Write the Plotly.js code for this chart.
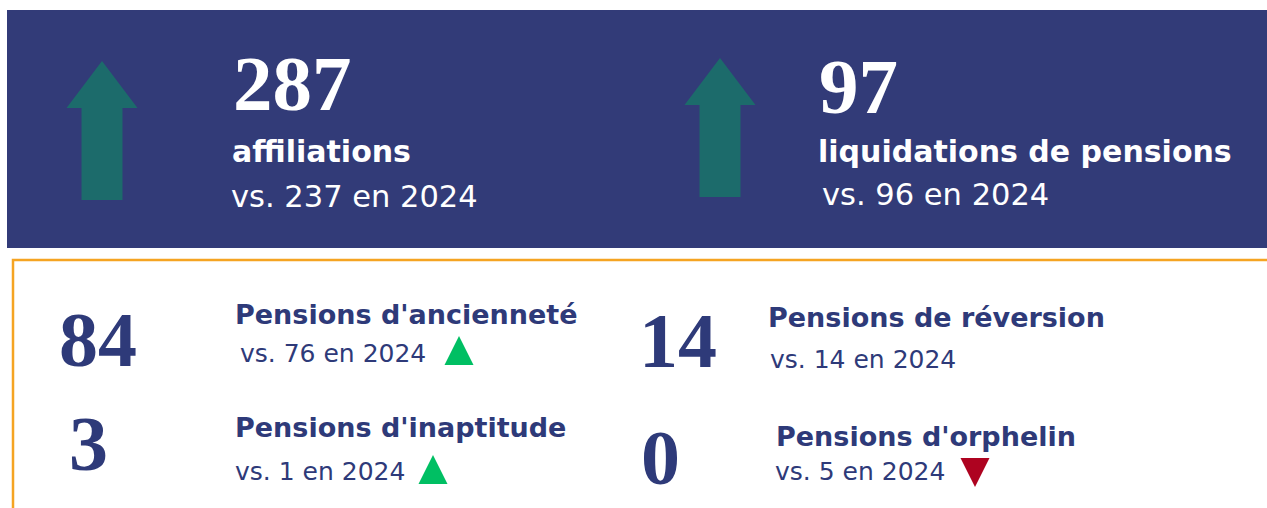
<!DOCTYPE html>
<html><head><meta charset="utf-8">
<script src="https://cdn.plot.ly/plotly-3.0.1.min.js"></script>
<style>html,body{margin:0;padding:0;background:#fff;overflow:hidden}</style>
</head><body><div id="chart" style="width:1267px;height:508px"></div>
<script>
// ---- data ----
const prevYear = 2024;
const mainLabels = ['affiliations', 'liquidations de pensions'];
const mainValues = [287, 97];
const mainPrevValues = [237, 96];
const subLabels = ["Pensions d'ancienneté", "Pensions de réversion", "Pensions d'inaptitude", "Pensions d'orphelin"];
const subValues = [84, 14, 3, 0];
const subPrevValues = [76, 14, 1, 5];

// ---- layout / styles ----
const W = 1267, H = 508;
const NAVY = '#323b78', TEXT = '#2e3a79', TEAL = '#1c6b6b', ORANGE = '#f5a422', GREEN = '#00bf63', RED = '#ae0320';
const SERIF = '"Liberation Serif", "DejaVu Serif", serif';
const SANS = '"DejaVu Sans", "Noto Sans", sans-serif';
const K_SERIF = 0.3375, K_SANS = 0.28; // baseline -> middle offset factors

const mainPos = [
  {ax: 102, tip: 61, head: 108, hh: 35.5, sh: 20.5, bot: 200, numX: 232, numB: 110, labX: 231, labB: 160, vsX: 230, vsB: 205},
  {ax: 720, tip: 58, head: 105, hh: 35.5, sh: 20.5, bot: 197, numX: 818, numB: 113, labX: 817, labB: 160, vsX: 821, vsB: 203}
];
const subPos = [
  {numX: 58, numB: 366, labX: 234, labB: 322, vsX: 239, vsB: 360, triX: 459, triY: 336},
  {numX: 638, numB: 367, labX: 767, labB: 325, vsX: 769, vsB: 366, triX: 0, triY: 0},
  {numX: 68, numB: 470, labX: 234, labB: 435, vsX: 234, vsB: 478, triX: 433, triY: 455},
  {numX: 640, numB: 484, labX: 775, labB: 444, vsX: 774, vsB: 478, triX: 975, triY: 487}
];
const MAIN_NUM = 79, MAIN_LAB = 30, MAIN_VS = 30.5;
const SUB_NUM = 78, SUB_LAB = 27, SUB_VS = 25;
const TRI_SIZE = 29;

function txt(text, x, base, size, color, family, weight, k) {
  return {x: x, y: base - k * size, xref: 'x', yref: 'y', xanchor: 'left', yanchor: 'middle',
    showarrow: false, text: text, borderpad: 0, font: {size: size, color: color, family: family, weight: weight}};
}

const shapes = [
  {type: 'rect', xref: 'x', yref: 'y', x0: 7, x1: W, y0: 10, y1: 248, fillcolor: NAVY, line: {width: 0}, layer: 'below'},
  {type: 'rect', xref: 'x', yref: 'y', x0: 13, x1: W + 5, y0: 260, y1: H + 5, fillcolor: 'rgba(0,0,0,0)', line: {color: ORANGE, width: 2.5}, layer: 'below'}
];
const annotations = [];

mainValues.forEach((v, i) => {
  const p = mainPos[i];
  const up = v >= mainPrevValues[i];
  const t = up ? p.tip : p.bot, b = up ? p.bot : p.tip, hd = up ? p.head : (p.tip + p.bot - p.head);
  shapes.push({type: 'path', xref: 'x', yref: 'y', layer: 'above',
    path: `M${p.ax},${t} L${p.ax + p.hh},${hd} L${p.ax + p.sh},${hd} L${p.ax + p.sh},${b} L${p.ax - p.sh},${b} L${p.ax - p.sh},${hd} L${p.ax - p.hh},${hd} Z`,
    fillcolor: TEAL, line: {width: 0}});
  annotations.push(txt(String(v), p.numX, p.numB, MAIN_NUM, '#ffffff', SERIF, 700, K_SERIF));
  annotations.push(txt(mainLabels[i], p.labX, p.labB, MAIN_LAB, '#ffffff', SANS, 700, K_SANS));
  annotations.push(txt(`vs. ${mainPrevValues[i]} en ${prevYear}`, p.vsX, p.vsB, MAIN_VS, '#ffffff', SANS, 400, K_SANS));
});

const triUp = {x: [], y: []}, triDown = {x: [], y: []};
subValues.forEach((v, i) => {
  const p = subPos[i];
  annotations.push(txt(String(v), p.numX, p.numB, SUB_NUM, TEXT, SERIF, 700, K_SERIF));
  annotations.push(txt(subLabels[i], p.labX, p.labB, SUB_LAB, TEXT, SANS, 700, K_SANS));
  annotations.push(txt(`vs. ${subPrevValues[i]} en ${prevYear}`, p.vsX, p.vsB, SUB_VS, TEXT, SANS, 400, K_SANS));
  if (v > subPrevValues[i]) { triUp.x.push(p.triX); triUp.y.push(p.triY); }
  else if (v < subPrevValues[i]) { triDown.x.push(p.triX); triDown.y.push(p.triY); }
});

const data = [
  {type: 'scatter', mode: 'markers', x: triUp.x, y: triUp.y, hoverinfo: 'skip',
    marker: {symbol: 'arrow-up', size: TRI_SIZE, color: GREEN, line: {width: 0}}},
  {type: 'scatter', mode: 'markers', x: triDown.x, y: triDown.y, hoverinfo: 'skip',
    marker: {symbol: 'arrow-down', size: TRI_SIZE, color: RED, line: {width: 0}}}
];

const layout = {
  width: W, height: H, margin: {l: 0, r: 0, t: 0, b: 0},
  paper_bgcolor: '#ffffff', plot_bgcolor: '#ffffff', showlegend: false,
  xaxis: {range: [0, W], visible: false, fixedrange: true},
  yaxis: {range: [H, 0], visible: false, fixedrange: true},
  shapes: shapes, annotations: annotations
};
Plotly.newPlot('chart', data, layout, {displayModeBar: false, staticPlot: true});
</script></body></html>
